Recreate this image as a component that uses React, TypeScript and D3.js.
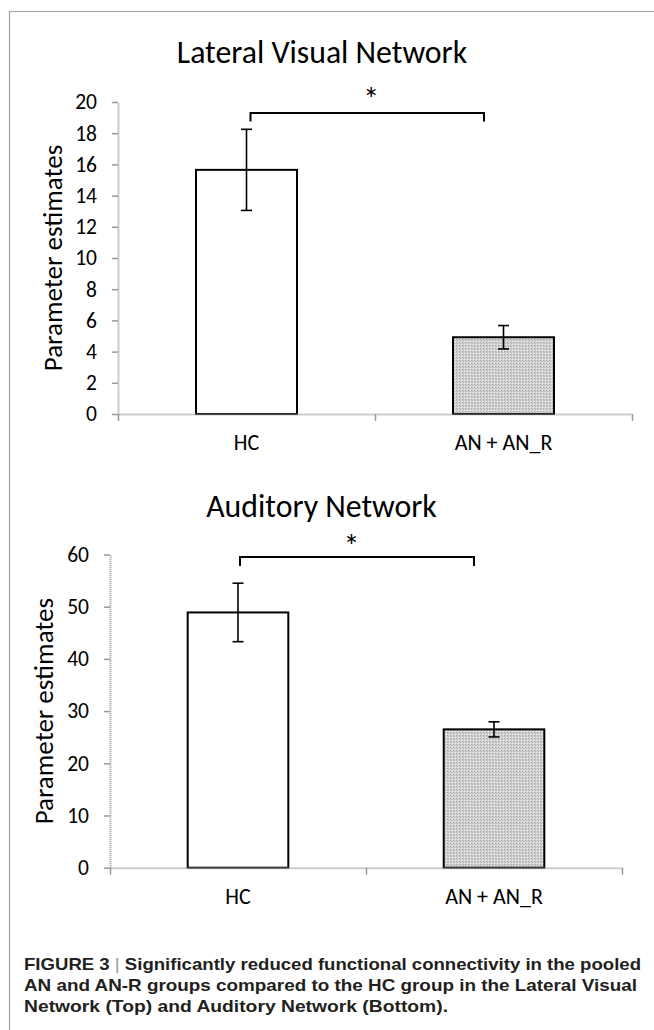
import React, { useEffect, useRef } from "react";
import * as d3 from "d3";

// group names on the x axis
const categories = ["HC", "AN + AN_R"];

// Lateral Visual Network (top)
const visualMeans = [15.65, 4.92];
const visualErrors = [2.6, 0.75];
const visualTicks = [0, 2, 4, 6, 8, 10, 12, 14, 16, 18, 20];

// Auditory Network (bottom)
const auditoryMeans = [48.9, 26.5];
const auditoryErrors = [5.6, 1.45];
const auditoryTicks = [0, 10, 20, 30, 40, 50, 60];

const yLabel = "Parameter estimates";
const captionLines = [
  "Significantly reduced functional connectivity in the pooled",
  "AN and AN-R groups compared to the HC group in the Lateral Visual",
  "Network (Top) and Auditory Network (Bottom).",
];

const WIDTH = 654;
const HEIGHT = 1030;
const FONT = "Carlito, Lato, sans-serif";
const AXIS_GRAY = "#9a9a9a";

type Panel = {
  title: string;
  means: number[];
  errors: number[];
  ticks: number[];
  left: number;
  right: number;
  top: number;
  bottom: number;
  titleX: number;
  titleY: number;
  labelX: number;
  bracketValue: number;
  legValue: number;
  bracketDx: [number, number];
  starDx: number;
  starDy: number;
};

const panels: Panel[] = [
  {
    title: "Lateral Visual Network",
    means: visualMeans,
    errors: visualErrors,
    ticks: visualTicks,
    left: 118, right: 632, top: 102, bottom: 414,
    titleX: 322, titleY: 63, labelX: 52,
    bracketValue: 19.3, legValue: 18.75, bracketDx: [4, -19.5],
    starDx: 4, starDy: -3,
  },
  {
    title: "Auditory Network",
    means: auditoryMeans,
    errors: auditoryErrors,
    ticks: auditoryTicks,
    left: 110, right: 622, top: 554.5, bottom: 867.7,
    titleX: 321.5, titleY: 517, labelX: 43,
    bracketValue: 59.5, legValue: 57.8, bracketDx: [2, -20],
    starDx: -5.5, starDy: 0,
  },
];

function drawPanel(svg: d3.Selection<SVGSVGElement, unknown, null, undefined>, p: Panel) {
  const maxV = p.ticks[p.ticks.length - 1];
  const x = d3.scaleBand<string>().domain(categories).range([p.left, p.right]).padding(0);
  const y = d3.scaleLinear().domain([0, maxV]).range([p.bottom, p.top]);
  const barW = x.bandwidth() * 0.393;
  const cx = (c: string) => (x(c) as number) + x.bandwidth() / 2;

  const g = svg.append("g");

  // title
  g.append("text")
    .attr("x", p.titleX)
    .attr("y", p.titleY)
    .attr("text-anchor", "middle")
    .style("font-family", FONT)
    .style("font-size", "31.8px")
    .text(p.title);

  // y axis title
  g.append("text")
    .attr("transform", `translate(${p.labelX}, ${(p.top + p.bottom) / 2}) rotate(-90)`)
    .attr("text-anchor", "middle")
    .attr("dominant-baseline", "central")
    .style("font-family", FONT)
    .style("font-size", "27px")
    .text(yLabel);

  // bars
  g.selectAll("rect.bar")
    .data(p.means)
    .enter()
    .append("rect")
    .attr("class", "bar")
    .attr("x", (d, i) => cx(categories[i]) - barW / 2)
    .attr("y", (d) => y(d))
    .attr("width", barW)
    .attr("height", (d) => y(0) - y(d))
    .attr("fill", (d, i) => (i === 0 ? "#fff" : "url(#stipple)"))
    .attr("stroke", "#000")
    .attr("stroke-width", 2);

  // error bars
  const eb = g.selectAll("g.err").data(p.means).enter().append("g").attr("class", "err")
    .attr("stroke", "#000").attr("stroke-width", 1.6);
  eb.append("line")
    .attr("x1", (d, i) => cx(categories[i]))
    .attr("x2", (d, i) => cx(categories[i]))
    .attr("y1", (d, i) => y(d - p.errors[i]))
    .attr("y2", (d, i) => y(d + p.errors[i]));
  [-1, 1].forEach((s) => {
    eb.append("line")
      .attr("x1", (d, i) => cx(categories[i]) - 5.5)
      .attr("x2", (d, i) => cx(categories[i]) + 5.5)
      .attr("y1", (d, i) => y(d + s * p.errors[i]))
      .attr("y2", (d, i) => y(d + s * p.errors[i]));
  });

  // y axis
  const yAxis = g.append("g")
    .attr("transform", `translate(${p.left},0)`)
    .call(d3.axisLeft(y).tickValues(p.ticks).tickSize(6).tickSizeOuter(0).tickPadding(15));
  yAxis.select(".domain").attr("stroke", AXIS_GRAY).attr("stroke-width", 2).attr("stroke-dasharray", "1 1");
  yAxis.selectAll(".tick line").attr("stroke", AXIS_GRAY).attr("stroke-width", 1.5);
  yAxis.selectAll(".tick text")
    .attr("fill", "#000")
    .style("font-family", FONT)
    .style("font-size", "21.5px");

  // x axis: ticks at band edges
  const edges = d3.scaleLinear().domain([0, categories.length]).range([p.left, p.right]);
  const xAxis = g.append("g")
    .attr("transform", `translate(0,${p.bottom})`)
    .call(d3.axisBottom(edges).tickValues(d3.range(categories.length + 1)).tickFormat(() => "").tickSize(7).tickSizeOuter(0));
  xAxis.select(".domain").attr("stroke", AXIS_GRAY).attr("stroke-width", 2).attr("stroke-dasharray", "1 1");
  xAxis.selectAll(".tick line").attr("stroke", AXIS_GRAY).attr("stroke-width", 1.5);

  g.selectAll("text.cat")
    .data(categories)
    .enter()
    .append("text")
    .attr("class", "cat")
    .attr("x", (d) => cx(d))
    .attr("y", p.bottom + 36)
    .attr("text-anchor", "middle")
    .style("font-family", FONT)
    .style("font-size", "22px")
    .text((d) => d);

  // significance bracket
  const bx1 = cx(categories[0]) + p.bracketDx[0];
  const bx2 = cx(categories[1]) + p.bracketDx[1];
  const by = y(p.bracketValue);
  const ly = y(p.legValue);
  g.append("path")
    .attr("d", `M${bx1},${ly}V${by}H${bx2}V${ly}`)
    .attr("fill", "none")
    .attr("stroke", "#000")
    .attr("stroke-width", 2);
  g.append("text")
    .attr("x", (bx1 + bx2) / 2 + p.starDx)
    .attr("y", by + p.starDy)
    .attr("text-anchor", "middle")
    .style("font-family", FONT)
    .style("font-size", "32px")
    .text("*");
}

export default function App() {
  const ref = useRef<SVGSVGElement>(null);

  useEffect(() => {
    const svg = d3.select(ref.current as SVGSVGElement);
    svg.selectAll("*").remove();

    // stippled fill for the patient bar
    const pat = svg.append("defs").append("pattern")
      .attr("id", "stipple")
      .attr("width", 3)
      .attr("height", 3)
      .attr("patternUnits", "userSpaceOnUse");
    pat.append("rect").attr("width", 3).attr("height", 3).attr("fill", "#d2d2d2");
    pat.append("rect").attr("x", 0).attr("y", 0).attr("width", 1).attr("height", 1).attr("fill", "#a4a4a4");
    pat.append("rect").attr("x", 1).attr("y", 1).attr("width", 1).attr("height", 1).attr("fill", "#b4b4b4");
    pat.append("rect").attr("x", 2).attr("y", 2).attr("width", 1).attr("height", 1).attr("fill", "#eeeeee");

    svg.append("rect").attr("width", WIDTH).attr("height", HEIGHT).attr("fill", "#fff");

    // figure frame
    svg.append("path")
      .attr("d", `M9.5,${HEIGHT}V11.5H${WIDTH}`)
      .attr("fill", "none")
      .attr("stroke", "#a0a0a0")
      .attr("stroke-width", 1.2);

    panels.forEach((p) => drawPanel(svg, p));

    // caption (justified lines)
    const cap = svg.append("g")
      .style("font-family", "'Liberation Sans', Arial, sans-serif")
      .style("font-weight", "bold")
      .style("font-size", "16.5px")
      .attr("fill", "#231f20");
    const l1 = cap.append("text").attr("x", 24).attr("y", 970)
      .attr("textLength", 617).attr("lengthAdjust", "spacingAndGlyphs");
    l1.append("tspan").text("FIGURE 3 ");
    l1.append("tspan").attr("fill", "#9a9a9a").style("font-weight", "normal").text("|");
    l1.append("tspan").text(" " + captionLines[0]);
    cap.append("text").attr("x", 24).attr("y", 990.8)
      .attr("textLength", 613).attr("lengthAdjust", "spacingAndGlyphs")
      .text(captionLines[1]);
    cap.append("text").attr("x", 24).attr("y", 1011.6)
      .attr("textLength", 424).attr("lengthAdjust", "spacingAndGlyphs")
      .text(captionLines[2]);
  }, []);

  return (
    <svg
      ref={ref}
      width={WIDTH}
      height={HEIGHT}
      style={{ position: "absolute", left: 0, top: 0, display: "block" }}
    />
  );
}
